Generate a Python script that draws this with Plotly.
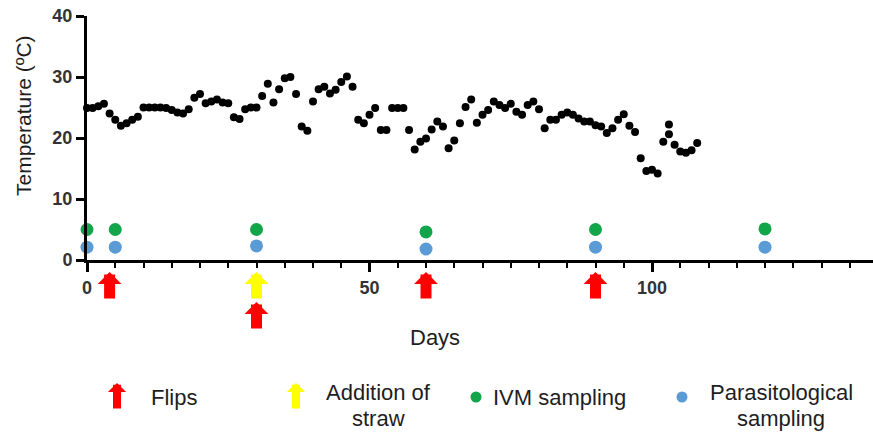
import plotly.graph_objects as go

# ---------------- data ----------------
days = [0, 1, 2, 3, 4, 5, 6, 7, 8, 9, 10, 11, 12, 13, 14, 15, 16, 17, 18, 19,
        20, 21, 22, 23, 24, 25, 26, 27, 28, 29, 30, 31, 32, 33, 34, 35, 36, 37, 38, 39,
        40, 41, 42, 43, 44, 45, 46, 47, 48, 49, 50, 51, 52, 53, 54, 55, 56, 57, 58, 59,
        60, 61, 62, 63, 64, 65, 66, 67, 68, 69, 70, 71, 72, 73, 74, 75, 76, 77, 78, 79,
        80, 81, 82, 83, 84, 85, 86, 87, 88, 89, 90, 91, 92, 93, 94, 95, 96, 97, 98, 99,
        100, 101, 102, 103, 103, 104, 105, 106, 107, 108]
temperature = [24.9, 24.9, 25.2, 25.6, 24.0, 23.0, 22.0, 22.4, 23.0, 23.5,
               25.0, 25.0, 25.0, 25.0, 24.9, 24.6, 24.2, 24.0, 24.7, 26.6,
               27.2, 25.7, 26.0, 26.3, 25.8, 25.7, 23.4, 23.1, 24.7, 25.0,
               25.0, 26.9, 28.9, 25.8, 28.0, 29.8, 30.0, 27.2, 21.9, 21.2,
               26.0, 28.0, 28.4, 27.3, 27.9, 29.2, 30.1, 28.4, 23.0, 22.4,
               23.8, 24.9, 21.3, 21.3, 24.9, 24.9, 24.9, 21.3, 18.1, 19.4,
               19.9, 21.4, 22.7, 21.9, 18.3, 19.6, 22.4, 25.1, 26.3, 22.5,
               23.8, 24.6, 26.0, 25.4, 24.9, 25.6, 24.3, 23.8, 25.4, 26.0,
               24.7, 21.6, 23.0, 23.0, 23.8, 24.2, 23.8, 23.2, 22.7, 22.7,
               22.1, 21.9, 20.8, 21.6, 23.0, 23.9, 22.0, 21.0, 16.7, 14.6,
               14.8, 14.2, 19.4, 22.2, 20.6, 18.9, 17.8, 17.6, 18.0, 19.2]

sampling_days = [0, 5, 30, 60, 90, 120]
ivm_values = [5.0, 5.0, 5.0, 4.6, 5.0, 5.1]
parasito_values = [2.1, 2.1, 2.3, 1.8, 2.1, 2.1]

flip_days = [4, 60, 90]
flip_days_lower = [30]
straw_days = [30]

x_ticks = [0, 50, 100]
y_ticks = [0, 10, 20, 30, 40]

legend_labels = ["Flips", "Addition of<br>straw", "IVM sampling", "Parasitological<br>sampling"]

# ---------------- style ----------------
W, H = 873, 432
ML, MR, MT, MB = 87, 0, 16, 172
PW, PH = W - ML - MR, H - MT - MB
PX_PER_DAY = 5.65
FONT = "Liberation Sans, Arial, sans-serif"
RED, YELLOW = "#ff0000", "#ffff00"
GREEN, BLUE = "#12a54a", "#5b9bd5"
TXT = "#1e1e1e"


def px(xp):
    return (xp - ML) / PW


def py(yp):
    return (H - MB - yp) / PH


fig = go.Figure()

fig.add_trace(go.Scatter(x=days, y=temperature, mode="markers",
                         marker=dict(color="black", size=8),
                         cliponaxis=False, showlegend=False))
fig.add_trace(go.Scatter(x=sampling_days, y=ivm_values, mode="markers",
                         marker=dict(color=GREEN, size=13),
                         cliponaxis=False, showlegend=False))
fig.add_trace(go.Scatter(x=sampling_days, y=parasito_values, mode="markers",
                         marker=dict(color=BLUE, size=13),
                         cliponaxis=False, showlegend=False))

annotations = []


def arrow(x, y, color, xref, length=28, width=11, size=0.36):
    return dict(x=x, y=y, xref=xref, yref="paper", text="", showarrow=True,
                ax=0, ay=length, arrowhead=1, arrowsize=size, arrowwidth=width,
                arrowcolor=color, standoff=0, startstandoff=0)


for d in flip_days:
    annotations.append(arrow(d, py(272), RED, "x"))
for d in straw_days:
    annotations.append(arrow(d, py(272), YELLOW, "x"))
for d in flip_days_lower:
    annotations.append(arrow(d, py(302), RED, "x"))

# axis titles
annotations.append(dict(x=px(23), y=py(116), xref="paper", yref="paper",
                        text="Temperature (ºC)", textangle=-90, showarrow=False,
                        font=dict(family=FONT, size=21, color=TXT),
                        xanchor="center", yanchor="middle"))
annotations.append(dict(x=px(435), y=py(337), xref="paper", yref="paper",
                        text="Days", showarrow=False,
                        font=dict(family=FONT, size=22, color=TXT),
                        xanchor="center", yanchor="middle"))

# custom legend
annotations.append(arrow(px(117), py(383), RED, "paper", length=27, width=8, size=0.38))
annotations.append(arrow(px(296), py(383), YELLOW, "paper", length=27, width=8, size=0.38))
lf = dict(family=FONT, size=22, color=TXT)


def legend_text(label, xp, anchor):
    lines = label.split("<br>")
    if len(lines) == 1:
        return [dict(x=px(xp), y=py(397), xref="paper", yref="paper", text=lines[0],
                     showarrow=False, font=lf, xanchor=anchor, yanchor="middle")]
    return [dict(x=px(xp), y=py(yp), xref="paper", yref="paper", text=t,
                 showarrow=False, font=lf, xanchor=anchor, yanchor="middle")
            for t, yp in zip(lines, [392, 418])]


annotations += legend_text(legend_labels[0], 149, "left")
annotations += legend_text(legend_labels[1], 378, "center")
annotations += legend_text(legend_labels[2], 491, "left")
annotations += legend_text(legend_labels[3], 781, "center")

shapes = []
for cx, col in [(476, GREEN), (682, BLUE)]:
    shapes.append(dict(type="circle", xref="paper", yref="paper",
                       x0=px(cx - 5.5), x1=px(cx + 5.5),
                       y0=py(397 + 5.5), y1=py(397 - 5.5),
                       fillcolor=col, line=dict(width=0)))

fig.update_layout(
    width=W, height=H,
    margin=dict(l=ML, r=MR, t=MT, b=MB, pad=0),
    paper_bgcolor="white", plot_bgcolor="white",
    showlegend=False,
    annotations=annotations,
    shapes=shapes,
    xaxis=dict(range=[0, PW / PX_PER_DAY], tickvals=x_ticks,
               showline=True, linecolor="black", linewidth=3,
               ticks="outside", ticklen=9, tickwidth=2.5, tickcolor="black",
               minor=dict(dtick=5, ticks="outside", ticklen=5, tickwidth=2,
                          tickcolor="black", showgrid=False),
               showgrid=False, zeroline=False,
               tickfont=dict(family=FONT, size=18, color="#333333", weight="bold")),
    yaxis=dict(range=[0, 40], tickvals=y_ticks,
               showline=True, linecolor="black", linewidth=3,
               ticks="outside", ticklen=8, tickwidth=2.5, tickcolor="black",
               showgrid=False, zeroline=False,
               tickfont=dict(family=FONT, size=18, color="#333333", weight="bold")),
)

fig.write_html("out.html", config={"displayModeBar": False},
               post_script="document.body.style.margin='0px';")
